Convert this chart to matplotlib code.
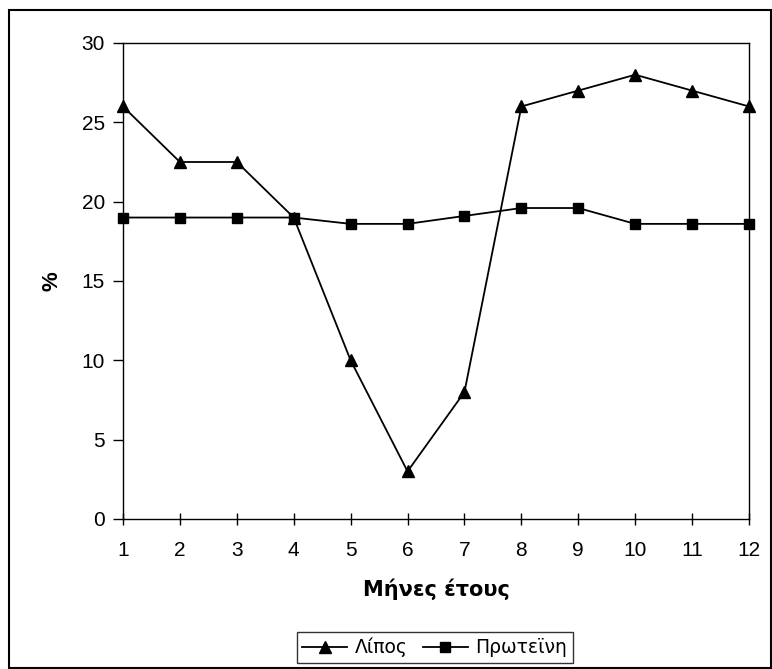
import numpy as np
import matplotlib
matplotlib.use("Agg")
import matplotlib.pyplot as plt
from matplotlib.patches import Rectangle

# data
months = [1, 2, 3, 4, 5, 6, 7, 8, 9, 10, 11, 12]
lipos = [26, 22.5, 22.5, 19, 10, 3, 8, 26, 27, 28, 27, 26]
proteini = [19, 19, 19, 19, 18.6, 18.6, 19.1, 19.6, 19.6, 18.6, 18.6, 18.6]
yticks = [0, 5, 10, 15, 20, 25, 30]

fig = plt.figure(figsize=(7.72, 6.69), dpi=100)
ax = fig.add_axes([123/772, 1 - 519/669, (749 - 123)/772, (519 - 43)/669])

ax.plot(months, lipos, color="black", lw=1.3, marker="^", ms=9, label="Λίπος", clip_on=False)
ax.plot(months, proteini, color="black", lw=1.3, marker="s", ms=7, label="Πρωτεϊνη", clip_on=False)

ax.set_xlim(1, 12)
ax.set_ylim(0, 30)
ax.set_xticks(months)
ax.set_yticks(yticks)

for s in ax.spines.values():
    s.set_linewidth(1.0)
    s.set_color("black")

ax.tick_params(axis="x", direction="inout", length=9, width=1, labelsize=15, pad=11)
ax.tick_params(axis="y", direction="out", length=7, width=1, labelsize=15, pad=6)
for lab in ax.get_xticklabels() + ax.get_yticklabels():
    lab.set_family("Liberation Sans")

ax.set_xlabel("Μήνες έτους", fontsize=15, fontweight="bold", family="DejaVu Sans", labelpad=14)
ax.set_ylabel("%", fontsize=16, fontweight="bold", family="Liberation Sans", labelpad=14)

leg = fig.legend(loc="center", bbox_to_anchor=(434.5/772, 1 - 647.5/669), ncol=2,
                 frameon=True, fancybox=False, edgecolor="black",
                 handlelength=2.4, handletextpad=0.4, columnspacing=0.8,
                 borderpad=0.3, prop={"family": "DejaVu Sans", "size": 13.5})
leg.get_frame().set_linewidth(1.0)

# outer chart border
fig.patches.append(Rectangle((9/772, 1/669), (771 - 9)/772, (669 - 10 - 1)/669,
                             transform=fig.transFigure, fill=False, edgecolor="black", lw=1.5))

fig.savefig("out.png", dpi=100)
